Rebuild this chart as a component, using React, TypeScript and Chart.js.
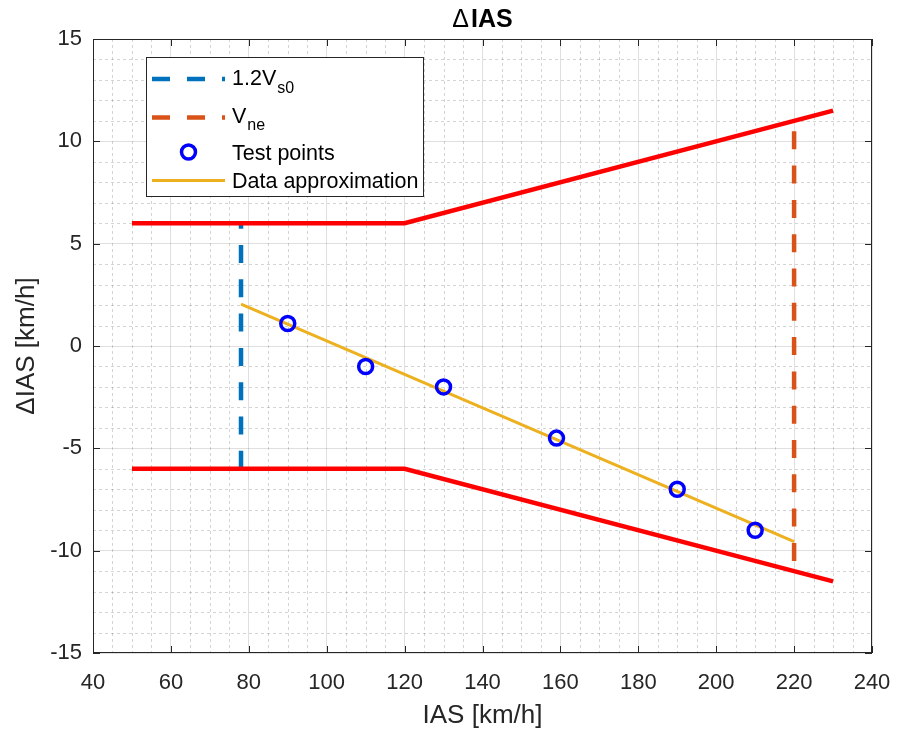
import React, { useEffect, useRef } from "react";
import { Chart, registerables } from "chart.js";

Chart.register(...registerables);

const FONT = '"Liberation Sans", Arial, Helvetica, sans-serif';
const INK = "#262626";

// Allowed ΔIAS band
const LIMIT_IAS = [50, 120, 230];
const LIMIT_UPPER = [6, 6, 11.5];
const LIMIT_LOWER = [-6, -6, -11.5];

// Reference speeds (vertical markers)
const VS0_IAS = [78, 78];
const VS0_SPAN = [-6, 6];
const VNE_IAS = [220, 220];
const VNE_SPAN = [-10.5, 10.5];

// Measured test points
const TEST_IAS = [90, 110, 130, 159, 190, 210];
const TEST_DELTA = [1.1, -1, -2, -4.5, -7, -9];

// Linear approximation of the test points
const FIT_IAS = [78, 220];
const FIT_DELTA = [2.05, -9.56];

// Axis ranges
const X_RANGE = [40, 240];
const X_STEP = 20;
const X_MINOR = 5;
const Y_RANGE = [-15, 15];
const Y_STEP = 5;
const Y_MINOR = 1;

const TITLE_SYMBOL = "\u0394";
const TITLE_TEXT = "IAS";
const X_TITLE = "IAS [km/h]";
const Y_TITLE = "\u0394IAS [km/h]";

const COLORS = {
  limit: "#FF0000",
  vs0: "#0072BD",
  vne: "#D95319",
  test: "#0000FF",
  fit: "#EDB120",
};

const DASH = [18, 16.3];

const pts = (xs: number[], ys: number[]) => xs.map((x, i) => ({ x, y: ys[i] }));

const decorations = {
  id: "decorations",
  beforeDatasetsDraw(chart: any) {
    const { ctx, chartArea: a, scales } = chart;
    const x = scales.x;
    const y = scales.y;
    ctx.save();
    // minor grid
    ctx.strokeStyle = "rgba(38,38,38,0.2)";
    ctx.lineWidth = 1;
    ctx.setLineDash([3, 3]);
    ctx.beginPath();
    for (let v = X_RANGE[0]; v <= X_RANGE[1]; v += X_MINOR) {
      if ((v - X_RANGE[0]) % X_STEP === 0) continue;
      const px = Math.round(x.getPixelForValue(v)) + 0.5;
      ctx.moveTo(px, a.top);
      ctx.lineTo(px, a.bottom);
    }
    for (let v = Y_RANGE[0]; v <= Y_RANGE[1]; v += Y_MINOR) {
      if ((v - Y_RANGE[0]) % Y_STEP === 0) continue;
      const py = Math.round(y.getPixelForValue(v)) + 0.5;
      ctx.moveTo(a.left, py);
      ctx.lineTo(a.right, py);
    }
    ctx.stroke();
    ctx.setLineDash([]);

    // box
    ctx.strokeStyle = INK;
    ctx.lineWidth = 1;
    ctx.strokeRect(Math.round(a.left) + 0.5, Math.round(a.top) + 0.5, Math.round(a.width) - 1, Math.round(a.height) - 1);

    // inward tick marks on all four sides
    const tl = 7;
    ctx.beginPath();
    for (let v = X_RANGE[0]; v <= X_RANGE[1]; v += X_STEP) {
      const px = Math.round(x.getPixelForValue(v)) + 0.5;
      ctx.moveTo(px, a.bottom);
      ctx.lineTo(px, a.bottom - tl);
      ctx.moveTo(px, a.top);
      ctx.lineTo(px, a.top + tl);
    }
    for (let v = Y_RANGE[0]; v <= Y_RANGE[1]; v += Y_STEP) {
      const py = Math.round(y.getPixelForValue(v)) + 0.5;
      ctx.moveTo(a.left, py);
      ctx.lineTo(a.left + tl, py);
      ctx.moveTo(a.right, py);
      ctx.lineTo(a.right - tl, py);
    }
    ctx.stroke();
    ctx.restore();
  },
  afterDraw(chart: any) {
    const { ctx, chartArea: a } = chart;
    const cx = (a.left + a.right) / 2;
    const cy = (a.top + a.bottom) / 2;
    ctx.save();

    // title: regular-weight delta followed by bold text
    ctx.fillStyle = "#000000";
    ctx.textBaseline = "alphabetic";
    ctx.textAlign = "left";
    ctx.font = `25px ${FONT}`;
    const wSym = ctx.measureText(TITLE_SYMBOL).width;
    ctx.font = `bold 25px ${FONT}`;
    const wTxt = ctx.measureText(TITLE_TEXT).width;
    const t0 = cx - (wSym + 2 + wTxt) / 2;
    ctx.font = `25px ${FONT}`;
    ctx.fillText(TITLE_SYMBOL, t0, 27);
    ctx.font = `bold 25px ${FONT}`;
    ctx.fillText(TITLE_TEXT, t0 + wSym + 2, 27);

    ctx.fillStyle = INK;
    ctx.textAlign = "center";
    ctx.font = `26px ${FONT}`;
    ctx.fillText(X_TITLE, cx, 723);

    ctx.save();
    ctx.translate(34, cy);
    ctx.rotate(-Math.PI / 2);
    ctx.fillText(Y_TITLE, 0, 0);
    ctx.restore();

    // legend
    const L = 146, T = 57, R = 424, B = 197;
    ctx.fillStyle = "#FFFFFF";
    ctx.fillRect(L, T, R - L, B - T);
    ctx.strokeStyle = INK;
    ctx.lineWidth = 1;
    ctx.strokeRect(L + 0.5, T + 0.5, R - L - 1, B - T - 1);

    const sx0 = 152, sx1 = 225, tx = 232;
    const sample = (yy: number, color: string, width: number, dash: number[]) => {
      ctx.save();
      ctx.strokeStyle = color;
      ctx.lineWidth = width;
      ctx.setLineDash(dash);
      ctx.beginPath();
      ctx.moveTo(sx0, yy);
      ctx.lineTo(sx1, yy);
      ctx.stroke();
      ctx.restore();
    };
    sample(79, COLORS.vs0, 4.5, [18, 17]);
    sample(117.5, COLORS.vne, 4.5, [18, 17]);
    sample(180.5, COLORS.fit, 3, []);
    ctx.save();
    ctx.strokeStyle = COLORS.test;
    ctx.lineWidth = 3.5;
    ctx.beginPath();
    ctx.arc((sx0 + sx1) / 2, 152, 7, 0, Math.PI * 2);
    ctx.stroke();
    ctx.restore();

    ctx.fillStyle = "#000000";
    ctx.textAlign = "left";
    const main = `21.5px ${FONT}`;
    const sub = `16px ${FONT}`;
    const withSub = (base: string, s: string, yb: number, ys: number) => {
      ctx.font = main;
      ctx.fillText(base, tx, yb);
      const w = ctx.measureText(base).width;
      ctx.font = sub;
      ctx.fillText(s, tx + w + 1, ys);
    };
    withSub("1.2V", "s0", 85, 93);
    withSub("V", "ne", 123, 130);
    ctx.font = main;
    ctx.fillText("Test points", tx, 160);
    ctx.fillText("Data approximation", tx, 188);
    ctx.restore();
  },
};

export default function App() {
  const ref = useRef<HTMLCanvasElement | null>(null);

  useEffect(() => {
    if (!ref.current) return;
    const chart = new Chart(ref.current, {
      type: "scatter",
      data: {
        datasets: [
          {
            label: "Test points",
            data: pts(TEST_IAS, TEST_DELTA),
            showLine: false,
            pointRadius: 7,
            pointBorderWidth: 3.5,
            pointBorderColor: COLORS.test,
            pointBackgroundColor: "rgba(0,0,0,0)",
          },
          {
            label: "Data approximation",
            data: pts(FIT_IAS, FIT_DELTA),
            showLine: true,
            borderColor: COLORS.fit,
            borderWidth: 3,
            pointRadius: 0,
          },
          {
            label: "upper",
            data: pts(LIMIT_IAS, LIMIT_UPPER),
            showLine: true,
            borderColor: COLORS.limit,
            borderWidth: 4.5,
            pointRadius: 0,
          },
          {
            label: "lower",
            data: pts(LIMIT_IAS, LIMIT_LOWER),
            showLine: true,
            borderColor: COLORS.limit,
            borderWidth: 4.5,
            pointRadius: 0,
          },
          {
            label: "1.2Vs0",
            data: pts(VS0_IAS, VS0_SPAN),
            showLine: true,
            borderColor: COLORS.vs0,
            borderWidth: 4.5,
            borderDash: DASH,
            pointRadius: 0,
          },
          {
            label: "Vne",
            data: pts(VNE_IAS, VNE_SPAN),
            showLine: true,
            borderColor: COLORS.vne,
            borderWidth: 4.5,
            borderDash: DASH,
            pointRadius: 0,
          },
        ],
      },
      options: {
        animation: false,
        responsive: true,
        maintainAspectRatio: false,
        events: [],
        layout: { padding: { top: 39, right: 25, left: 0, bottom: 0 } },
        plugins: { legend: { display: false }, tooltip: { enabled: false }, title: { display: false } },
        scales: {
          x: {
            type: "linear",
            min: X_RANGE[0],
            max: X_RANGE[1],
            afterFit: (s: any) => {
              s.height = 77;
              s.paddingLeft = 0;
              s.paddingRight = 0;
            },
            ticks: {
              stepSize: X_STEP,
              color: INK,
              font: { family: FONT, size: 22 },
              padding: 17,
              maxRotation: 0,
              autoSkip: false,
            },
            grid: { color: "rgba(38,38,38,0.15)", drawTicks: false },
            border: { display: false },
          },
          y: {
            type: "linear",
            min: Y_RANGE[0],
            max: Y_RANGE[1],
            afterFit: (s: any) => {
              s.width = 93;
              s.paddingTop = 0;
              s.paddingBottom = 0;
            },
            ticks: {
              stepSize: Y_STEP,
              color: INK,
              font: { family: FONT, size: 22 },
              padding: 11,
              autoSkip: false,
            },
            grid: { color: "rgba(38,38,38,0.15)", drawTicks: false },
            border: { display: false },
          },
        },
      },
      plugins: [decorations],
    } as any);
    return () => chart.destroy();
  }, []);

  return (
    <div style={{ position: "fixed", left: 0, top: 0, width: 897, height: 730, background: "#FFFFFF" }}>
      <canvas ref={ref} />
    </div>
  );
}
